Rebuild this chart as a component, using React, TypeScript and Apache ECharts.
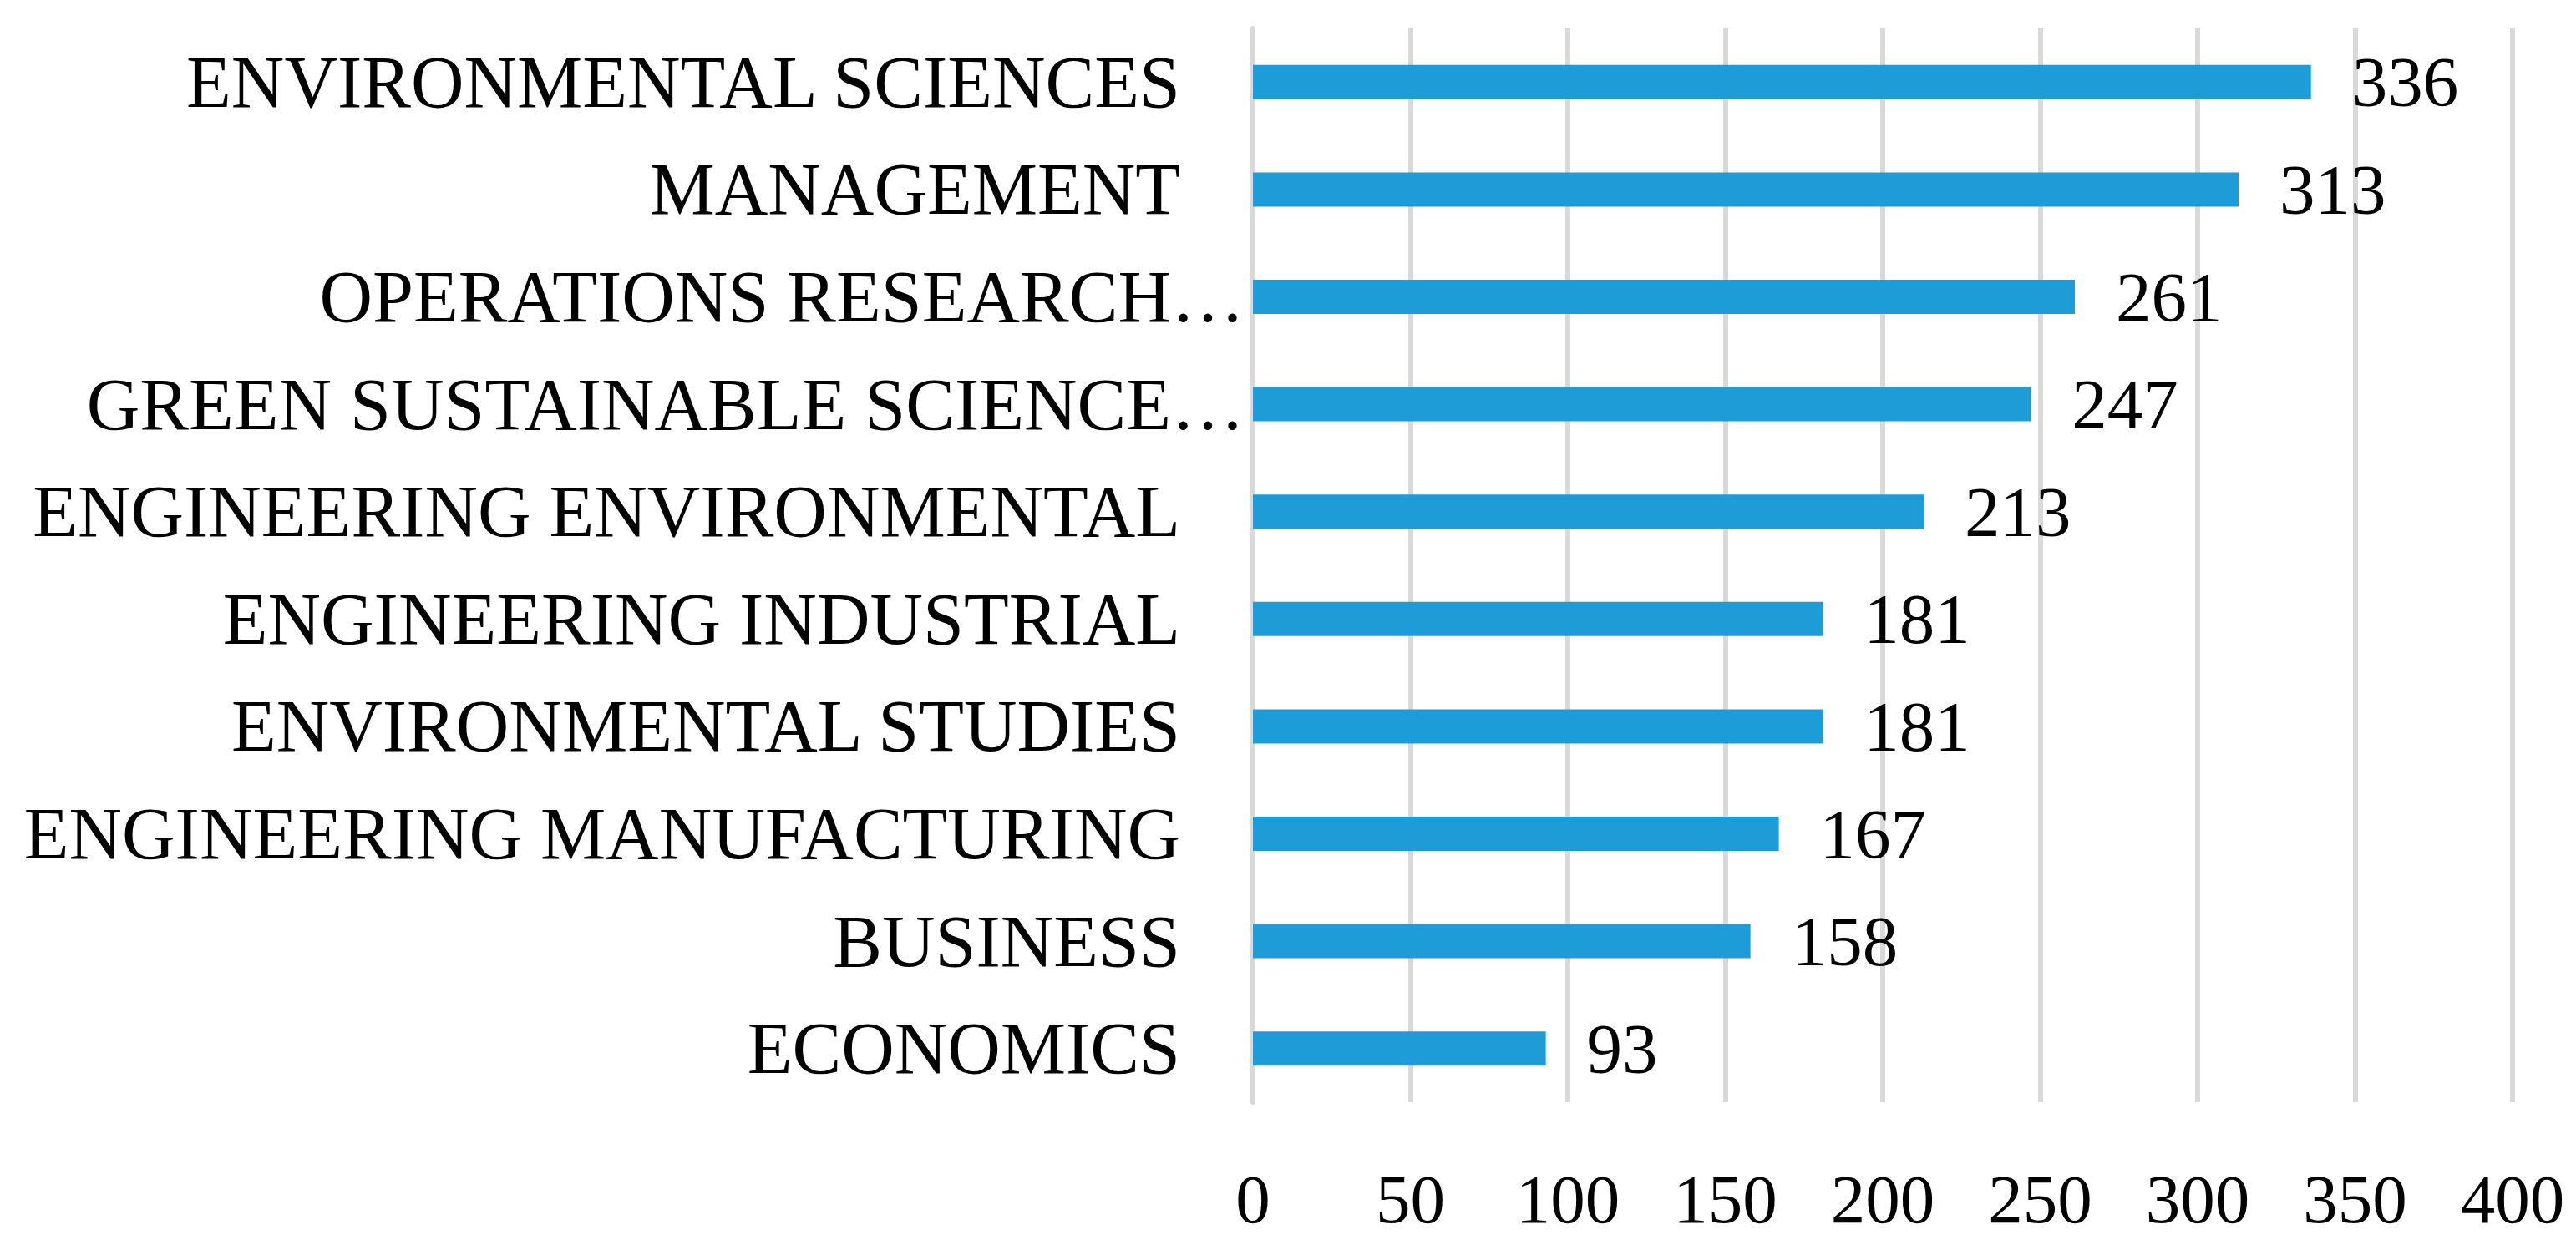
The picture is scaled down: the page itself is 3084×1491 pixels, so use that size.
import React, { useEffect, useRef } from "react";
import * as echarts from "echarts";

const categories = [
  "ENVIRONMENTAL SCIENCES",
  "MANAGEMENT",
  "OPERATIONS RESEARCH…",
  "GREEN SUSTAINABLE SCIENCE…",
  "ENGINEERING ENVIRONMENTAL",
  "ENGINEERING INDUSTRIAL",
  "ENVIRONMENTAL STUDIES",
  "ENGINEERING MANUFACTURING",
  "BUSINESS",
  "ECONOMICS",
];
const truncated = [false, false, true, true, false, false, false, false, false, false];
const values = [336, 313, 261, 247, 213, 181, 181, 167, 158, 93];
const xTicks = [0, 50, 100, 150, 200, 250, 300, 350, 400];

const FONT = "'Liberation Serif', 'Times New Roman', serif";

export default function App() {
  const ref = useRef<HTMLDivElement>(null);
  useEffect(() => {
    if (!ref.current) return;
    const chart = echarts.init(ref.current, null, { renderer: "svg" });
    chart.setOption({
      animation: false,
      backgroundColor: "#ffffff",
      grid: { left: 1500, right: 76, top: 34, bottom: 171, containLabel: false },
      xAxis: {
        type: "value",
        min: xTicks[0],
        max: xTicks[xTicks.length - 1],
        interval: 50,
        axisLine: { show: false },
        axisTick: { show: false },
        splitLine: { show: true, lineStyle: { color: "#d9d9d9", width: 6 } },
        axisLabel: {
          margin: 74,
          fontFamily: FONT,
          fontSize: 83,
          color: "#000",
        },
      },
      yAxis: {
        type: "category",
        data: categories,
        inverse: true,
        axisLine: { show: true, lineStyle: { color: "#d9d9d9", width: 6 } },
        axisTick: { show: false },
        axisLabel: {
          margin: 10,
          fontFamily: FONT,
          fontSize: 88,
          color: "#000",
          formatter: (v: string) => {
            const i = categories.indexOf(v);
            return truncated[i] ? `{t|${v}}` : `{n|${v}}`;
          },
          rich: {
            n: { fontFamily: FONT, fontSize: 88, color: "#000", padding: [0, 77, 0, 0] },
            t: { fontFamily: FONT, fontSize: 88, color: "#000", padding: [0, 0, 0, 0] },
          },
        },
      },
      series: [
        {
          type: "bar",
          data: values,
          barWidth: 41,
          itemStyle: { color: "#1E9CD7" },
          label: {
            show: true,
            position: "right",
            distance: 49,
            fontFamily: FONT,
            fontSize: 85,
            color: "#000",
          },
        },
      ],
    });
    return () => chart.dispose();
  }, []);
  return (
    <div
      ref={ref}
      style={{ position: "fixed", left: 0, top: 0, width: 3084, height: 1491 }}
    />
  );
}
